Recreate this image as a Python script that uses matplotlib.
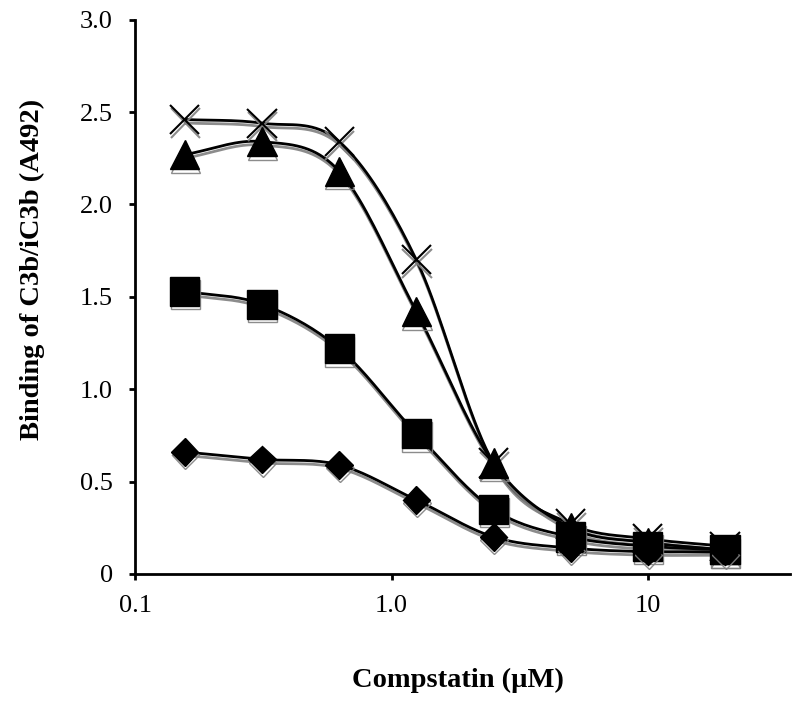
import numpy as np
import matplotlib
matplotlib.use("Agg")
import matplotlib.pyplot as plt
import matplotlib.patheffects as pe

conc = [0.156, 0.3125, 0.625, 1.25, 2.5, 5, 10, 20]
cross_vals = [2.46, 2.44, 2.34, 1.70, 0.60, 0.27, 0.19, 0.15]
tri_vals = [2.27, 2.34, 2.18, 1.42, 0.60, 0.25, 0.17, 0.13]
sq_vals = [1.53, 1.46, 1.22, 0.76, 0.35, 0.20, 0.15, 0.13]
dia_vals = [0.66, 0.62, 0.59, 0.40, 0.20, 0.14, 0.12, 0.12]

x_ticks = [0.1, 1.0, 10]
x_ticklabels = ["0.1", "1.0", "10"]
y_ticks = [0, 0.5, 1.0, 1.5, 2.0, 2.5, 3.0]
y_ticklabels = ["0", "0.5", "1.0", "1.5", "2.0", "2.5", "3.0"]

plt.rcParams['font.family'] = ['Liberation Serif', 'DejaVu Serif']


def smooth(xs, ys, n=20):
    lx = np.log10(np.asarray(xs, float))
    y = np.asarray(ys, float)
    px = np.concatenate([[2 * lx[0] - lx[1]], lx, [2 * lx[-1] - lx[-2]]])
    py = np.concatenate([[2 * y[0] - y[1]], y, [2 * y[-1] - y[-2]]])
    ox, oy = [], []
    for i in range(1, len(px) - 2):
        t = np.linspace(0, 1, n, endpoint=False)
        for arr, out in ((px, ox), (py, oy)):
            p0, p1, p2, p3 = arr[i - 1], arr[i], arr[i + 1], arr[i + 2]
            out.extend(0.5 * ((2 * p1) + (-p0 + p2) * t + (2 * p0 - 5 * p1 + 4 * p2 - p3) * t ** 2
                              + (-p0 + 3 * p1 - 3 * p2 + p3) * t ** 3))
    ox.append(lx[-1]); oy.append(y[-1])
    return 10 ** np.array(ox), np.array(oy)


fig = plt.figure(figsize=(8, 7.05), dpi=100)
ax = fig.add_axes([0.169, 0.186, 0.819, 0.786])

shadow = [pe.SimpleLineShadow(offset=(0.5, -2.5), shadow_color='#808080', alpha=0.9), pe.Normal()]

series = [
    (cross_vals, 'x', 21, 1.5),
    (tri_vals, '^', 21, 1),
    (sq_vals, 's', 21, 1),
    (dia_vals, 'D', 14, 1),
]
for vals, mk, ms, mew in series:
    sx, sy = smooth(conc, vals)
    ax.plot(sx, sy, color='black', lw=2.0, path_effects=shadow, zorder=2)
for vals, mk, ms, mew in series:
    ax.plot(conc, vals, linestyle='none', marker=mk, markersize=ms, color='black',
            markeredgewidth=mew, path_effects=shadow, zorder=3)

ax.set_xscale('log')
ax.set_xlim(0.1, 36)
ax.set_ylim(0, 3.0)
ax.set_xticks(x_ticks)
ax.set_xticklabels(x_ticklabels)
ax.minorticks_off()
ax.set_yticks(y_ticks)
ax.set_yticklabels(y_ticklabels)
ax.spines['top'].set_visible(False)
ax.spines['right'].set_visible(False)
ax.spines['left'].set_linewidth(2)
ax.spines['bottom'].set_linewidth(2)
ax.tick_params(axis='both', direction='out', width=2, length=4, labelsize=19)
ax.tick_params(axis='y', pad=12)
ax.tick_params(axis='x', pad=11)
ax.set_xlabel('Compstatin (µM)', fontsize=20.5, fontweight='bold', labelpad=36.5)
ax.set_ylabel('Binding of C3b/iC3b (A492)', fontsize=20.5, fontweight='bold', labelpad=25)
ax.xaxis.label.set_x(0.492)
ax.yaxis.label.set_y(0.549)

fig.savefig('out.png', dpi=100)
